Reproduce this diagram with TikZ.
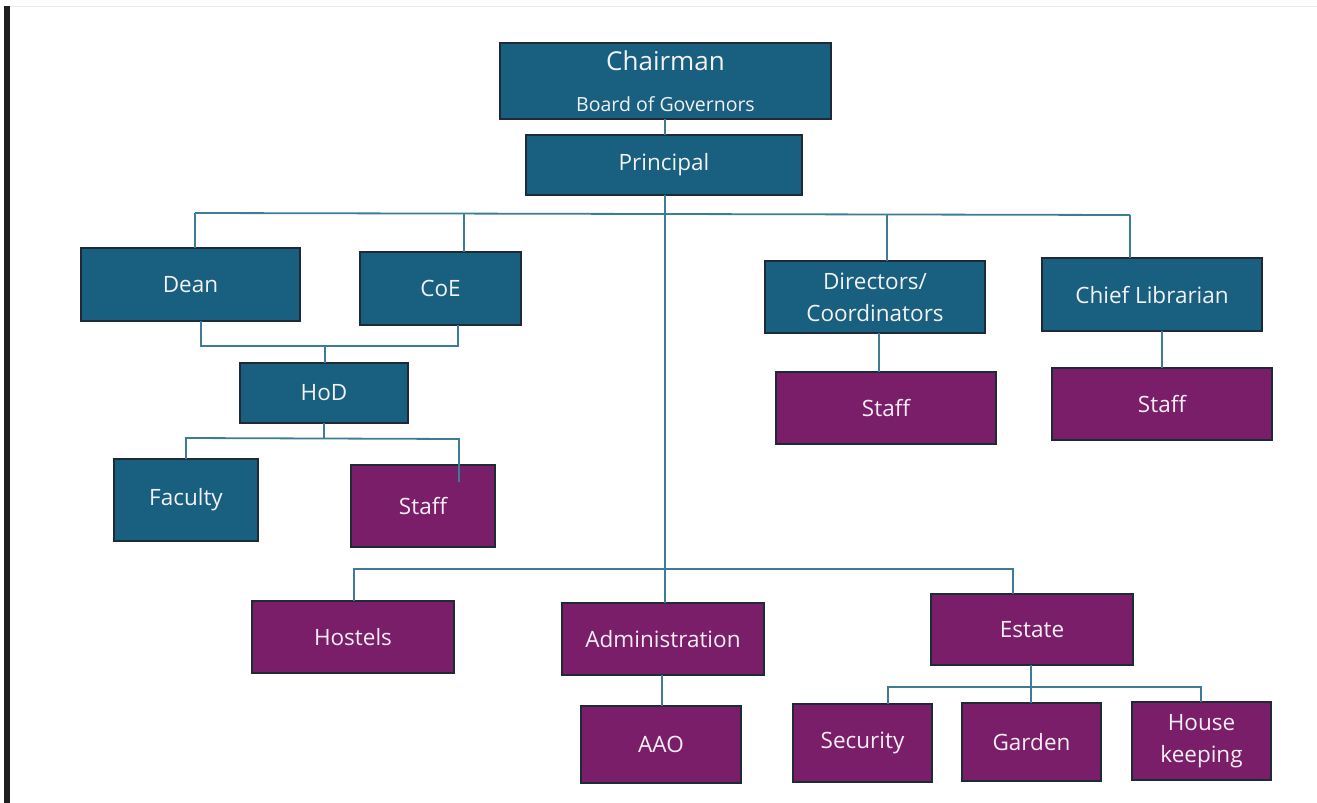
\documentclass[tikz,border=0pt]{standalone}
\usepackage{fontspec}
\setmainfont{Open Sans}
\definecolor{tealbox}{HTML}{195F80}
\definecolor{purpbox}{HTML}{7B1E69}
\definecolor{boxline}{HTML}{1E2A36}
\definecolor{connc}{HTML}{3C7C99}
\begin{document}
\begin{tikzpicture}[x=1pt,y=-1pt,
  box/.style={draw=boxline, line width=1.1pt, text=white!95!black, inner sep=0pt, outer sep=0pt,
    anchor=north west, align=center, font=\fontsize{22.5}{32}\selectfont},
  bluebox/.style={box, fill=tealbox},
  purpbox/.style={box, fill=purpbox, text=white!93!purpbox},
  conn/.style={draw=connc, line width=1.8pt}]
\useasboundingbox (0,0) rectangle (1317,803);
% frame bits
\fill[black!88] (4,6) rectangle (10,803);
\draw[black!8, line width=1.2pt] (10,6.5) -- (1317,6.5);

% nodes
\node[bluebox, minimum width=331pt, minimum height=76pt] (chair) at (500,43)
  {\fontsize{26}{30}\selectfont Chairman\\[9pt] \fontsize{19.5}{24}\selectfont Board of Governors};
\node[bluebox, minimum width=276pt, minimum height=60pt] (prin) at (526,135) {Principal};
\node[bluebox, minimum width=219pt, minimum height=73pt] (dean) at (81,248) {Dean};
\node[bluebox, minimum width=161pt, minimum height=73pt] (coe) at (360,252) {CoE};
\node[bluebox, minimum width=168pt, minimum height=60pt] (hod) at (240,363) {HoD};
\node[bluebox, minimum width=144pt, minimum height=82pt] (fac) at (114,459) {Faculty};
\node[purpbox, minimum width=144pt, minimum height=82pt] (hstaff) at (351,465) {Staff};
\node[bluebox, minimum width=220pt, minimum height=72pt] (dir) at (765,261) {Directors/\\Coordinators};
\node[purpbox, minimum width=220pt, minimum height=72pt] (dstaff) at (776,372) {Staff};
\node[bluebox, minimum width=220pt, minimum height=73pt] (lib) at (1042,258) {Chief Librarian};
\node[purpbox, minimum width=220pt, minimum height=72pt] (lstaff) at (1052,368) {Staff};
\node[purpbox, minimum width=202pt, minimum height=72pt] (hos) at (252,601) {Hostels};
\node[purpbox, minimum width=202pt, minimum height=72pt] (adm) at (562,603) {Administration};
\node[purpbox, minimum width=160pt, minimum height=77pt] (aao) at (581,706) {AAO};
\node[purpbox, minimum width=202pt, minimum height=71pt] (est) at (931,594) {Estate};
\node[purpbox, minimum width=139pt, minimum height=78pt] (sec) at (793,704) {Security};
\node[purpbox, minimum width=139pt, minimum height=78pt] (gar) at (962,703) {Garden};
\node[purpbox, minimum width=139pt, minimum height=78pt] (hk) at (1132,702) {House\\keeping};

% coordinates for buses
\coordinate (busL) at (195,213);
\coordinate (busR) at (1130,215);
\coordinate (coeT) at (464,213);
\coordinate (dirT) at (887,214);
\coordinate (trunk) at (665,213);
\coordinate (dhL) at (201,346);
\coordinate (dhR) at (458,346);
\coordinate (hodT) at (325,346);
\coordinate (hodB) at (324,438);
\coordinate (hbL) at (186,438);
\coordinate (hbR) at (459,439);
\coordinate (stfIn) at (459,482);
\coordinate (dirB) at (879,350);
\coordinate (libB) at (1162,350);
\coordinate (lbL) at (354,569);
\coordinate (lbR) at (1013,569);
\coordinate (admB) at (662,690);
\coordinate (ebL) at (888,687);
\coordinate (ebM) at (1031,687);
\coordinate (ebR) at (1201,687);

% connectors
\draw[conn] (trunk |- chair.south) -- (trunk |- prin.north);
\draw[conn] (trunk |- prin.south) -- (trunk |- adm.north);
\draw[conn] (busL) -- (busR);
\draw[conn] (busL) -- (busL |- dean.north);
\draw[conn] (coeT) -- (coeT |- coe.north);
\draw[conn] (dirT) -- (dirT |- dir.north);
\draw[conn] (busR) -- (busR |- lib.north);
\draw[conn] (dhL |- dean.south) -- (dhL) -- (dhR) -- (dhR |- coe.south);
\draw[conn] (hodT) -- (hodT |- hod.north);
\draw[conn] (hodB |- hod.south) -- (hodB);
\draw[conn] (hbL |- fac.north) -- (hbL) -- (hbR) -- (stfIn);
\draw[conn] (dirB |- dir.south) -- (dirB |- dstaff.north);
\draw[conn] (libB |- lib.south) -- (libB |- lstaff.north);
\draw[conn] (lbL |- hos.north) -- (lbL) -- (lbR) -- (lbR |- est.north);
\draw[conn] (admB |- adm.south) -- (admB |- aao.north);
\draw[conn] (ebM |- est.south) -- (ebM |- gar.north);
\draw[conn] (ebL |- sec.north) -- (ebL) -- (ebR) -- (ebR |- hk.north);
\end{tikzpicture}
\end{document}
